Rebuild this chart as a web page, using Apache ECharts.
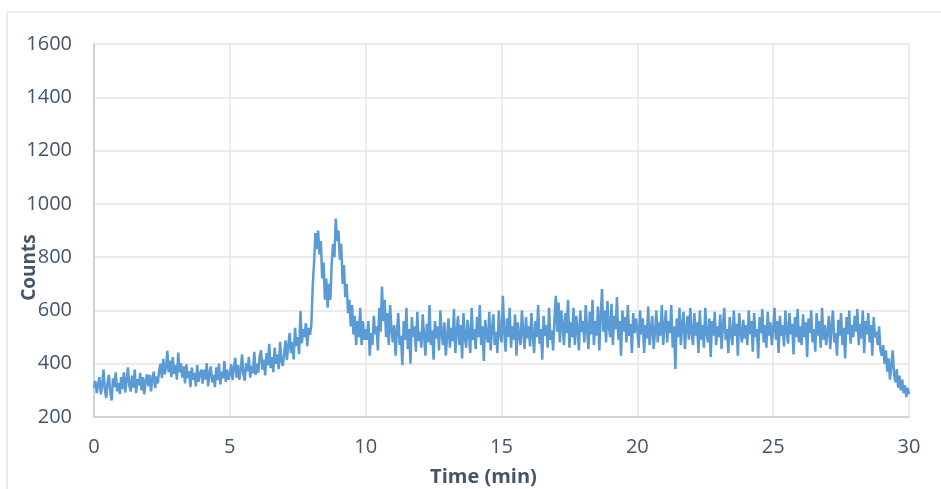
<!DOCTYPE html>
<html>
<head>
<meta charset="utf-8">
<script src="https://cdn.jsdelivr.net/npm/echarts@6/dist/echarts.min.js"></script>
<style>html,body{margin:0;padding:0;background:#fff}#chart{width:941px;height:489px}</style>
</head>
<body>
<div id="chart"></div>
<script>
// Sampling step of the trace (minutes)
const timeStep = 0.05;
const xTicks = [0, 5, 10, 15, 20, 25, 30];
const yTicks = [200, 400, 600, 800, 1000, 1200, 1400, 1600];

// Counts, 0.00 - 4.95 min
const counts0to5 = [
310,335,290,322,350,285,318,378,300,272,330,358,292,262,345,312,368,296,328,286,
350,305,368,292,338,386,318,296,355,310,378,290,342,318,366,300,350,285,335,360,
315,358,296,345,370,308,352,326,378,400,346,418,360,385,448,368,412,350,425,362,
395,340,442,368,402,348,390,326,398,345,372,312,385,340,366,315,395,332,360,378,
325,378,340,402,315,365,390,330,358,312,386,338,400,322,370,345,410,332,378,340
];
// Counts, 5.00 - 9.95 min
const counts5to10 = [
360,398,338,384,422,348,395,340,376,435,360,336,402,372,425,348,392,364,445,358,
400,366,430,450,378,415,356,440,394,475,384,425,368,460,400,435,380,482,408,392,
440,488,414,466,515,440,482,416,535,466,500,436,598,476,530,500,552,466,535,508,
545,690,780,890,830,900,810,860,720,780,640,720,610,700,640,780,850,800,945,860,
900,790,850,700,770,650,700,590,640,540,620,510,580,470,560,500,610,470,560,490
];
// Counts, 10.00 - 14.95 min
const counts10to15 = [
530,490,560,430,515,470,580,510,540,450,610,520,690,560,640,500,590,470,620,530,
480,545,430,520,590,470,505,395,560,490,610,455,530,400,575,500,540,445,595,485,
520,460,585,505,430,550,480,620,470,525,415,560,495,540,450,600,510,470,555,430,
505,570,460,535,485,605,440,520,580,470,545,420,590,500,460,565,515,440,610,490,
530,455,575,500,620,470,540,410,565,505,480,595,450,530,585,470,520,440,600,510
];
// Counts, 15.00 - 19.95 min
const counts15to20 = [
480,655,520,445,570,500,610,460,540,490,585,430,555,505,470,600,520,455,575,495,
540,465,590,510,440,560,500,620,475,530,415,580,505,545,460,610,490,525,450,570,
655,520,630,480,600,545,470,590,515,640,460,555,500,610,470,580,530,450,600,520,
560,480,620,530,455,595,510,640,470,560,505,615,450,575,680,520,600,480,635,540,
500,625,470,580,530,650,490,560,430,600,520,575,480,620,505,550,440,590,515,570
];
// Counts, 20.00 - 24.95 min
const counts20to25 = [
530,460,600,510,570,440,545,495,615,470,530,580,455,520,600,480,555,505,620,470,
540,600,480,560,515,620,460,540,380,570,500,610,470,545,595,455,530,580,490,610,
520,470,590,505,555,440,600,490,545,460,610,515,480,570,425,560,505,595,470,540,
500,585,455,545,610,490,530,440,575,515,470,600,505,550,430,590,520,480,565,495,
545,470,600,510,560,445,590,500,530,420,575,515,605,480,545,460,595,505,555,470
];
// Counts, 25.00 - 30.00 min
const counts25to30 = [
530,610,490,560,440,580,505,545,465,600,520,475,590,510,550,435,575,500,605,480,
540,470,585,500,555,425,570,515,600,480,530,445,590,505,560,460,610,490,545,470,
520,580,455,540,600,480,515,430,565,505,590,470,535,420,575,510,600,475,545,500,
580,520,605,470,550,495,600,440,560,510,590,480,545,430,575,500,520,470,540,450,
430,470,400,450,370,420,340,395,450,360,330,380,310,355,300,340,290,320,275,310,
285
];

const counts = [].concat(counts0to5, counts5to10, counts10to15, counts15to20, counts20to25, counts25to30);
const seriesData = counts.map((v, i) => [+(i * timeStep).toFixed(2), v]);

const textColor = '#44546a';
const fontFam = '"Open Sans", "Noto Sans", sans-serif';

const chart = echarts.init(document.getElementById('chart'), null, {renderer: 'canvas'});
chart.setOption({
  animation: false,
  backgroundColor: '#fff',
  graphic: [{
    type: 'rect', silent: true, z: -1,
    shape: {x: 7, y: 12, width: 940, height: 490},
    style: {fill: 'none', stroke: '#d9d9d9', lineWidth: 1}
  }],
  grid: {left: 94, right: 32, top: 44, bottom: 72, containLabel: false, outerBoundsMode: 'none'},
  xAxis: {
    type: 'value', min: xTicks[0], max: xTicks[xTicks.length - 1], interval: 5,
    name: 'Time (min)', nameLocation: 'middle', nameGap: 50, nameMoveOverlap: false,
    nameTextStyle: {color: textColor, fontFamily: fontFam, fontSize: 20, fontWeight: 'bold', padding: [0, 36, 0, 0]},
    axisLine: {lineStyle: {color: '#c5cad5', width: 1.5}},
    axisTick: {show: false},
    axisLabel: {color: textColor, fontFamily: fontFam, fontSize: 20, margin: 20, formatter: v => String(v)},
    splitLine: {show: true, lineStyle: {color: '#e2e5eb', width: 1.5}}
  },
  yAxis: {
    type: 'value', min: yTicks[0], max: yTicks[yTicks.length - 1], interval: 200,
    name: 'Counts', nameLocation: 'middle', nameGap: 55, nameRotate: 90, nameMoveOverlap: false,
    nameTextStyle: {color: textColor, fontFamily: fontFam, fontSize: 19, fontWeight: 'bold', padding: [0, 74, 0, 0]},
    axisLine: {show: true, lineStyle: {color: '#c5cad5', width: 1.5}},
    axisTick: {show: false},
    axisLabel: {color: textColor, fontFamily: fontFam, fontSize: 20, margin: 22, formatter: v => String(v)},
    splitLine: {show: true, lineStyle: {color: '#e2e5eb', width: 1.5}}
  },
  series: [{
    type: 'line', data: seriesData, showSymbol: false, sampling: null,
    lineStyle: {color: '#5b9bd5', width: 2.5}, z: 3
  }]
});
</script>
</body>
</html>
